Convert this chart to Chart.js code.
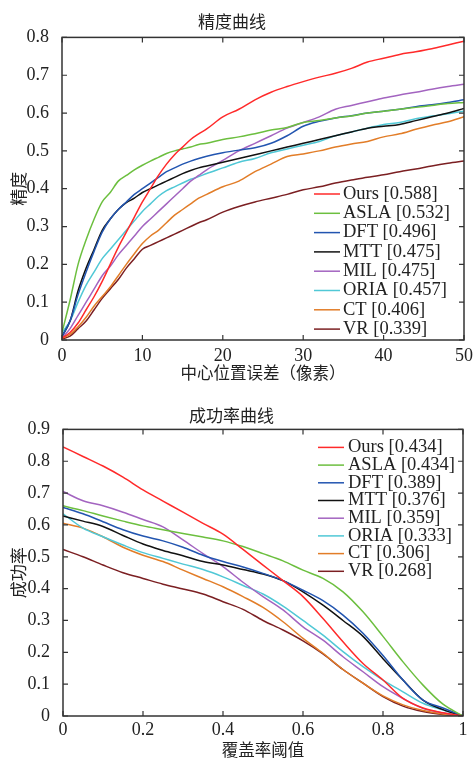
<!DOCTYPE html>
<html>
<head>
<meta charset="utf-8">
<script src="https://cdn.jsdelivr.net/npm/chart.js@4.4.0/dist/chart.umd.min.js"></script>
<style>
  html, body { margin: 0; padding: 0; background: #fff; overflow: hidden; }
  #top { position: absolute; left: 0; top: 0; width: 473px; height: 385px; }
  #bottom { position: absolute; left: 0; top: 385px; width: 473px; height: 385px; }
</style>
</head>
<body>
<div id="top"><canvas id="precCanvas"></canvas></div>
<div id="bottom"><canvas id="succCanvas"></canvas></div>
<script>
// trackers, legend scores and colours
const trackers = ['Ours', 'ASLA', 'DFT', 'MTT', 'MIL', 'ORIA', 'CT', 'VR'];
const precScores = ['0.588', '0.532', '0.496', '0.475', '0.475', '0.457', '0.406', '0.339'];
const succScores = ['0.434', '0.434', '0.389', '0.376', '0.359', '0.333', '0.306', '0.268'];
const colors = ['#ff2a2a', '#6cbf3f', '#2255b0', '#111111', '#a364c0', '#50c8d6', '#e27d28', '#7b1f22'];

// precision curve: location error threshold (px)
const precX = [0, 1, 2, 3, 4, 5, 6, 7, 8, 9, 10, 11, 12, 13, 14, 15, 16, 17, 18, 20, 22, 24, 26, 28, 30, 32, 34, 36, 38, 40, 42, 44, 46, 48, 50];
const precOurs = [0.005, 0.02, 0.045, 0.08, 0.115, 0.155, 0.2, 0.245, 0.285, 0.325, 0.365, 0.4, 0.435, 0.465, 0.49, 0.51, 0.53, 0.545, 0.558, 0.59, 0.61, 0.635, 0.655, 0.67, 0.683, 0.695, 0.705, 0.718, 0.735, 0.745, 0.755, 0.762, 0.77, 0.78, 0.79];
const precASLA = [0.02, 0.105, 0.2, 0.265, 0.32, 0.365, 0.39, 0.42, 0.435, 0.45, 0.462, 0.473, 0.483, 0.493, 0.5, 0.505, 0.51, 0.517, 0.52, 0.53, 0.537, 0.545, 0.555, 0.562, 0.575, 0.58, 0.587, 0.592, 0.6, 0.605, 0.61, 0.615, 0.62, 0.625, 0.628];
const precDFT = [0.01, 0.05, 0.12, 0.18, 0.235, 0.285, 0.32, 0.345, 0.365, 0.385, 0.4, 0.415, 0.43, 0.445, 0.455, 0.465, 0.473, 0.48, 0.486, 0.495, 0.502, 0.508, 0.52, 0.54, 0.565, 0.578, 0.587, 0.593, 0.6, 0.605, 0.61, 0.617, 0.622, 0.628, 0.635];
const precMTT = [0.01, 0.05, 0.13, 0.19, 0.24, 0.29, 0.32, 0.345, 0.363, 0.375, 0.39, 0.4, 0.41, 0.42, 0.43, 0.44, 0.448, 0.455, 0.46, 0.47, 0.48, 0.49, 0.5, 0.51, 0.52, 0.53, 0.54, 0.55, 0.56, 0.565, 0.57, 0.58, 0.59, 0.6, 0.612];
const precMIL = [0.005, 0.03, 0.065, 0.1, 0.135, 0.17, 0.195, 0.225, 0.25, 0.275, 0.3, 0.32, 0.34, 0.36, 0.38, 0.4, 0.42, 0.435, 0.45, 0.475, 0.5, 0.52, 0.54, 0.56, 0.575, 0.59, 0.61, 0.62, 0.63, 0.64, 0.648, 0.655, 0.663, 0.67, 0.676];
const precORIA = [0.02, 0.05, 0.1, 0.145, 0.18, 0.215, 0.24, 0.265, 0.29, 0.315, 0.34, 0.36, 0.38, 0.395, 0.405, 0.415, 0.425, 0.432, 0.44, 0.455, 0.47, 0.48, 0.495, 0.505, 0.515, 0.525, 0.54, 0.55, 0.56, 0.57, 0.575, 0.585, 0.592, 0.598, 0.605];
const precCT = [0.005, 0.015, 0.035, 0.06, 0.09, 0.115, 0.14, 0.17, 0.2, 0.228, 0.255, 0.275, 0.29, 0.31, 0.33, 0.345, 0.36, 0.375, 0.385, 0.405, 0.42, 0.445, 0.465, 0.485, 0.492, 0.5, 0.51, 0.518, 0.525, 0.537, 0.545, 0.557, 0.568, 0.577, 0.59];
const precVR = [0.003, 0.01, 0.03, 0.05, 0.08, 0.11, 0.135, 0.16, 0.19, 0.215, 0.24, 0.25, 0.26, 0.27, 0.28, 0.29, 0.3, 0.31, 0.318, 0.338, 0.353, 0.365, 0.375, 0.385, 0.397, 0.405, 0.415, 0.423, 0.43, 0.437, 0.445, 0.452, 0.46, 0.467, 0.473];

// success curve: overlap threshold
const succX = [0, 0.05, 0.1, 0.15, 0.2, 0.25, 0.3, 0.35, 0.4, 0.45, 0.5, 0.55, 0.6, 0.65, 0.7, 0.75, 0.8, 0.85, 0.9, 0.95, 1];
const succOurs = [0.845, 0.815, 0.785, 0.75, 0.71, 0.675, 0.64, 0.605, 0.571, 0.523, 0.474, 0.425, 0.375, 0.306, 0.233, 0.165, 0.113, 0.055, 0.025, 0.01, 0];
const succASLA = [0.66, 0.645, 0.628, 0.612, 0.597, 0.585, 0.573, 0.562, 0.55, 0.532, 0.51, 0.487, 0.458, 0.432, 0.39, 0.327, 0.25, 0.17, 0.097, 0.037, 0];
const succDFT = [0.655, 0.635, 0.61, 0.585, 0.565, 0.55, 0.53, 0.505, 0.485, 0.468, 0.448, 0.425, 0.395, 0.362, 0.317, 0.26, 0.19, 0.113, 0.05, 0.025, 0];
const succMTT = [0.628, 0.612, 0.595, 0.567, 0.54, 0.52, 0.503, 0.485, 0.474, 0.46, 0.446, 0.425, 0.39, 0.348, 0.3, 0.25, 0.18, 0.113, 0.05, 0.02, 0];
const succMIL = [0.705, 0.676, 0.66, 0.64, 0.617, 0.594, 0.553, 0.51, 0.469, 0.42, 0.375, 0.333, 0.28, 0.238, 0.186, 0.139, 0.092, 0.055, 0.024, 0.01, 0];
const succORIA = [0.635, 0.59, 0.563, 0.537, 0.513, 0.495, 0.477, 0.46, 0.437, 0.41, 0.383, 0.345, 0.3, 0.254, 0.202, 0.155, 0.113, 0.076, 0.04, 0.019, 0];
const succCT = [0.605, 0.59, 0.563, 0.53, 0.505, 0.485, 0.458, 0.432, 0.406, 0.375, 0.341, 0.296, 0.244, 0.197, 0.146, 0.103, 0.063, 0.035, 0.017, 0.006, 0];
const succVR = [0.523, 0.5, 0.474, 0.45, 0.432, 0.414, 0.399, 0.383, 0.359, 0.335, 0.3, 0.27, 0.236, 0.195, 0.146, 0.103, 0.061, 0.031, 0.014, 0.005, 0];

const precSeries = [precOurs, precASLA, precDFT, precMTT, precMIL, precORIA, precCT, precVR];
const succSeries = [succOurs, succASLA, succDFT, succMTT, succMIL, succORIA, succCT, succVR];

const serif = "'Liberation Serif', 'Times New Roman', serif";
const cjk = "'Noto Sans CJK SC', sans-serif";
const textColor = '#222';

function makeDatasets(xs, series, scores) {
  return series.map((ys, i) => ({
    label: trackers[i] + ' [' + scores[i] + ']',
    data: xs.map((x, j) => ({ x: x, y: ys[j] })),
    borderColor: colors[i],
    borderWidth: 1.5,
    pointRadius: 0,
    cubicInterpolationMode: 'monotone',
    fill: false
  }));
}

// box round the plot with ticks pointing inwards, like matlab
const boxPlugin = {
  id: 'box',
  afterDraw(chart) {
    const ctx = chart.ctx;
    const a = chart.chartArea;
    const xs = chart.scales.x, ys = chart.scales.y;
    ctx.save();
    ctx.strokeStyle = '#333';
    ctx.lineWidth = 1.5;
    ctx.strokeRect(a.left, a.top, a.right - a.left, a.bottom - a.top);
    ctx.lineWidth = 1.2;
    ctx.beginPath();
    xs.ticks.forEach(t => {
      const px = xs.getPixelForValue(t.value);
      ctx.moveTo(px, a.bottom); ctx.lineTo(px, a.bottom - 5);
      ctx.moveTo(px, a.top); ctx.lineTo(px, a.top + 5);
    });
    ys.ticks.forEach(t => {
      const py = ys.getPixelForValue(t.value);
      ctx.moveTo(a.left, py); ctx.lineTo(a.left + 5, py);
      ctx.moveTo(a.right, py); ctx.lineTo(a.right - 5, py);
    });
    ctx.stroke();
    ctx.restore();
  }
};

// legend drawn inside the plot area
const innerLegend = {
  id: 'innerLegend',
  afterDraw(chart, args, opts) {
    const ctx = chart.ctx;
    const a = chart.chartArea;
    ctx.save();
    ctx.font = '18.5px ' + serif;
    ctx.textBaseline = 'middle';
    ctx.fillStyle = textColor;
    chart.data.datasets.forEach((ds, i) => {
      const y = opts.y(a) + i * opts.step;
      const x0 = a.right - opts.fromRight;
      ctx.strokeStyle = ds.borderColor;
      ctx.lineWidth = 1.5;
      ctx.beginPath();
      ctx.moveTo(x0, y);
      ctx.lineTo(x0 + 26, y);
      ctx.stroke();
      ctx.fillText(ds.label, x0 + opts.gap, y);
    });
    ctx.restore();
  }
};

const fmtTick = v => String(+v.toFixed(2));

function makeChart(canvasId, cfg) {
  return new Chart(document.getElementById(canvasId).getContext('2d'), {
    type: 'line',
    data: { datasets: cfg.datasets },
    plugins: [boxPlugin, innerLegend],
    options: {
      responsive: true,
      maintainAspectRatio: false,
      animation: false,
      layout: { padding: { left: 0, right: cfg.right, top: 0, bottom: 0 } },
      plugins: {
        legend: { display: false },
        tooltip: { enabled: false },
        title: {
          display: true,
          text: cfg.title,
          color: textColor,
          font: { family: cjk, size: 17, weight: 'normal' },
          padding: cfg.titlePad
        },
        innerLegend: cfg.legend
      },
      scales: {
        x: {
          type: 'linear',
          min: cfg.xMin, max: cfg.xMax,
          grid: { display: false },
          border: { display: false },
          ticks: { stepSize: cfg.xStep, color: textColor, padding: cfg.xTickPad, maxRotation: 0,
                   font: { family: serif, size: 18 }, callback: fmtTick },
          title: { display: true, text: cfg.xTitle, color: textColor,
                   font: { family: cjk, size: 16.5 }, padding: { top: 0, bottom: cfg.xTitlePad } },
          afterFit(s) { s.height = cfg.xHeight; }
        },
        y: {
          type: 'linear',
          min: 0, max: cfg.yMax,
          grid: { display: false },
          border: { display: false },
          ticks: { stepSize: 0.1, color: textColor, padding: 5,
                   font: { family: serif, size: 18 }, callback: fmtTick },
          title: { display: true, text: cfg.yTitle, color: textColor,
                   font: { family: cjk, size: 17 }, padding: { top: 8, bottom: 0 } },
          afterFit(s) { s.width = cfg.yWidth; }
        }
      }
    }
  });
}

makeChart('precCanvas', {
  datasets: makeDatasets(precX, precSeries, precScores),
  title: '精度曲线', titlePad: { top: 11, bottom: 6 },
  xMin: 0, xMax: 50, xStep: 10, yMax: 0.8,
  xTitle: '中心位置误差（像素）', yTitle: '精度',
  xHeight: 45, xTitlePad: 2, xTickPad: -3, yWidth: 62, right: 9,
  legend: { y: a => a.bottom - 146, step: 19.3, fromRight: 150, gap: 29 }
});

makeChart('succCanvas', {
  datasets: makeDatasets(succX, succSeries, succScores),
  title: '成功率曲线', titlePad: { top: 20, bottom: 4 },
  xMin: 0, xMax: 1, xStep: 0.2, yMax: 0.9,
  xTitle: '覆盖率阈值', yTitle: '成功率',
  xHeight: 54, xTitlePad: 10, xTickPad: -5, yWidth: 63, right: 10,
  legend: { y: a => a.top + 18, step: 17.7, fromRight: 145, gap: 30 }
});
</script>
</body>
</html>
